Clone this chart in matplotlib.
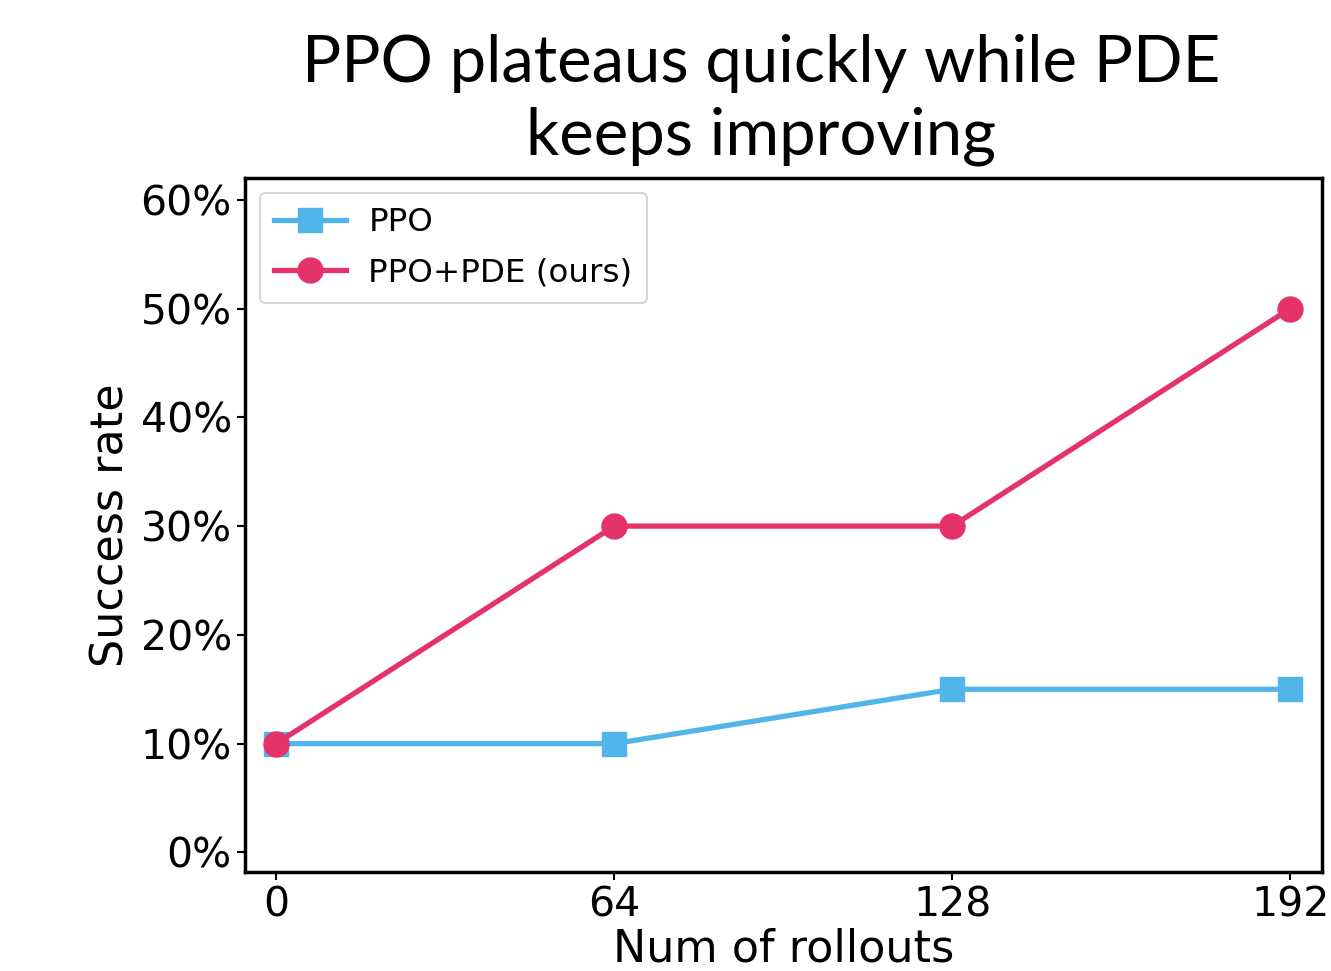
import matplotlib
matplotlib.use("Agg")
import matplotlib.pyplot as plt
from matplotlib.ticker import FuncFormatter

plt.rcParams["font.family"] = ["DejaVu Sans"]

# rollout counts and success rates
rollouts = [0, 64, 128, 192]
ppo_rate = [0.10, 0.10, 0.15, 0.15]
pde_rate = [0.10, 0.30, 0.30, 0.50]
series_names = ["PPO", "PPO+PDE (ours)"]
y_ticks = [0.0, 0.1, 0.2, 0.3, 0.4, 0.5, 0.6]

blue = "#52B5EA"
red = "#E5336A"

fig = plt.figure(figsize=(13.31, 9.71), dpi=100)
ax = fig.add_axes([245 / 1331, 1 - 872 / 971, (1322 - 245) / 1331, (872 - 178) / 971])

ax.plot(rollouts, ppo_rate, color=blue, lw=3.8, marker="s", ms=17, label=series_names[0])
ax.plot(rollouts, pde_rate, color=red, lw=3.8, marker="o", ms=18, label=series_names[1])

ax.set_xlim(-5.9, 198)
ax.set_ylim(-0.018, 0.62)
ax.set_xticks(rollouts)
ax.set_yticks(y_ticks)
ax.yaxis.set_major_formatter(FuncFormatter(lambda v, _: f"{v * 100:.0f}%"))
ax.tick_params(labelsize=29.5, length=6, width=1.5)

for s in ax.spines.values():
    s.set_linewidth(2.5)

ax.set_xlabel("Num of rollouts", fontsize=32, labelpad=2)
ax.set_ylabel("Success rate", fontsize=32, labelpad=6)

leg = ax.legend(loc="upper left", fontsize=23.4, frameon=True, fancybox=True,
                borderpad=0.45, handlelength=2.2, handletextpad=0.7,
                labelspacing=0.6, borderaxespad=0.45, bbox_to_anchor=(0.0, 1.0))
leg.get_frame().set_edgecolor("#cccccc")
leg.get_frame().set_linewidth(1.5)

fig.text(761 / 1331, 1 - 100 / 971, "PPO plateaus quickly while PDE\nkeeps improving",
         ha="center", va="center", fontsize=47, family=["Lato", "DejaVu Sans"],
         linespacing=1.3)

fig.savefig("out.png", dpi=100)
